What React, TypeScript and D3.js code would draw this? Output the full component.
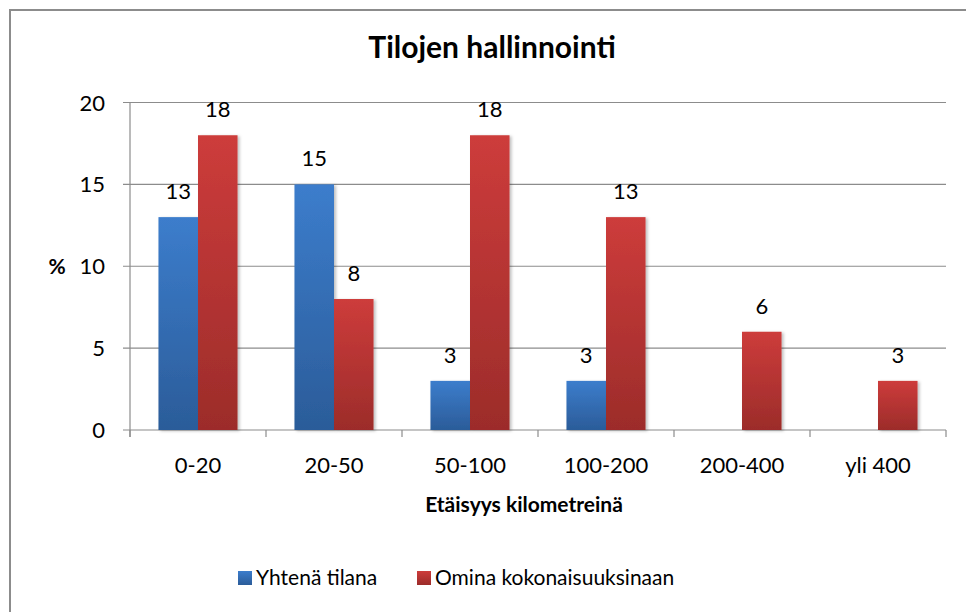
import React from "react";
import * as d3 from "d3";

const categories = ["0-20", "20-50", "50-100", "100-200", "200-400", "yli 400"];
const seriesNames = ["Yhtenä tilana", "Omina kokonaisuuksinaan"];
const yhtenaValues: (number | null)[] = [13, 15, 3, 3, null, null];
const ominaValues: (number | null)[] = [18, 8, 18, 13, 6, 3];
const yTicks = [0, 5, 10, 15, 20];

const title = "Tilojen hallinnointi";
const xTitle = "Etäisyys kilometreinä";
const yTitle = "%";

const W = 966;
const H = 612;
const FONT = "Lato, 'Open Sans', sans-serif";

export default function App() {
  const plotLeft = 130;
  const plotRight = 946;
  const plotTop = 102.5;
  const plotBottom = 430;

  const x = d3.scaleBand<string>().domain(categories).range([plotLeft, plotRight]).paddingInner(0).paddingOuter(0);
  const x1 = d3.scaleBand<string>().domain(seriesNames).range([0, x.bandwidth()]).paddingInner(0).paddingOuter(0.72);
  const y = d3.scaleLinear().domain([0, 20]).range([plotBottom, plotTop]);

  const seriesData = [yhtenaValues, ominaValues];
  const gradIds = ["gradBlue", "gradRed"];

  const tickXs = categories.map((c) => x(c)!).concat([plotRight]);

  return (
    <svg width={W} height={H} style={{ display: "block", position: "absolute", left: 0, top: 0 }} fontFamily={FONT}>
      <defs>
        <linearGradient id="gradBlue" x1="0" y1="0" x2="0" y2="1">
          <stop offset="0%" stopColor="#3C7DCC" />
          <stop offset="100%" stopColor="#2B5C99" />
        </linearGradient>
        <linearGradient id="gradRed" x1="0" y1="0" x2="0" y2="1">
          <stop offset="0%" stopColor="#CD3C3B" />
          <stop offset="100%" stopColor="#9C2C2A" />
        </linearGradient>
        <filter id="shadow" x="-20%" y="-5%" width="150%" height="115%">
          <feDropShadow dx="2" dy="1" stdDeviation="1.5" floodColor="#000" floodOpacity="0.25" />
        </filter>
      </defs>
      <rect x={0} y={0} width={W} height={H} fill="#fff" />
      <rect x={10} y={10} width={980} height={640} fill="none" stroke="#8C8C8C" strokeWidth={2} />

      <text x={492} y={58} textAnchor="middle" fontWeight="bold" fontSize={30} fill="#000">
        {title}
      </text>

      {yTicks.map((t) => (
        <line key={"g" + t} x1={plotLeft - 7} x2={plotRight} y1={y(t)} y2={y(t)} stroke="#8C8C8C" strokeWidth={1.2} />
      ))}
      <line x1={plotLeft} x2={plotLeft} y1={plotTop} y2={plotBottom + 7} stroke="#8C8C8C" strokeWidth={1.2} />
      {tickXs.map((tx, i) => (
        <line key={"xt" + i} x1={tx} x2={tx} y1={plotBottom} y2={plotBottom + 7} stroke="#8C8C8C" strokeWidth={1.2} />
      ))}

      {yTicks.map((t) => (
        <text key={"yl" + t} x={105} y={y(t) + 8} textAnchor="end" fontSize={22} fill="#000">
          {t}
        </text>
      ))}
      <text x={57} y={y(10) + 8} textAnchor="middle" fontWeight="bold" fontSize={21} fill="#000">
        {yTitle}
      </text>

      {seriesData.map((vals, si) =>
        vals.map((v, ci) => {
          if (v === null) return null;
          const bx = x(categories[ci])! + x1(seriesNames[si])!;
          return (
            <rect
              key={`b${si}-${ci}`}
              x={bx}
              y={y(v)}
              width={x1.bandwidth()}
              height={y(0) - y(v)}
              fill={`url(#${gradIds[si]})`}
              filter="url(#shadow)"
            />
          );
        })
      )}

      {seriesData.map((vals, si) =>
        vals.map((v, ci) => {
          if (v === null) return null;
          const bx = x(categories[ci])! + x1(seriesNames[si])! + x1.bandwidth() / 2;
          return (
            <text key={`l${si}-${ci}`} x={bx} y={y(v) - 18} textAnchor="middle" fontSize={22} fill="#000">
              {v}
            </text>
          );
        })
      )}

      {categories.map((c) => (
        <text key={"xl" + c} x={x(c)! + x.bandwidth() / 2} y={473} textAnchor="middle" fontSize={22} fill="#000">
          {c}
        </text>
      ))}

      <text x={524} y={512} textAnchor="middle" fontWeight="bold" fontSize={21} fill="#000">
        {xTitle}
      </text>

      <rect x={238} y={571} width={14} height={14} fill="url(#gradBlue)" />
      <text x={256} y={585} fontSize={21} fill="#000">
        {seriesNames[0]}
      </text>
      <rect x={417} y={571} width={14} height={14} fill="url(#gradRed)" />
      <text x={435} y={585} fontSize={21} fill="#000">
        {seriesNames[1]}
      </text>
    </svg>
  );
}
